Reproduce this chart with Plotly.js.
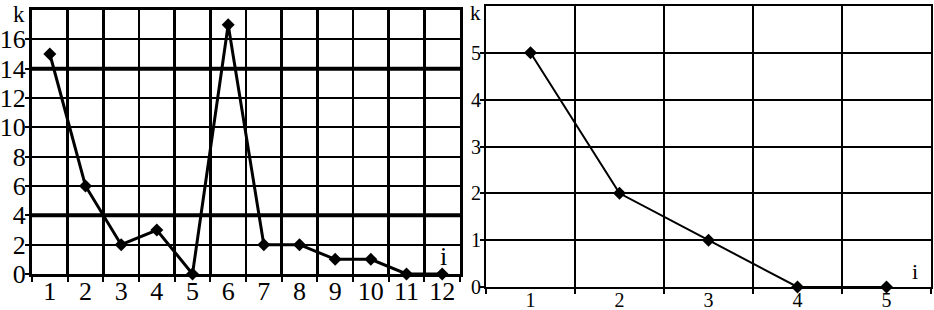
<!DOCTYPE html>
<html>
<head>
<meta charset="utf-8">
<script src="https://cdn.plot.ly/plotly-3.0.1.min.js"></script>
<style>html,body{margin:0;padding:0;background:#fff;}#chart{width:934px;height:310px;}</style>
</head>
<body>
<div id="chart"></div>
<script>
// ---- data ----
const leftI = [1, 2, 3, 4, 5, 6, 7, 8, 9, 10, 11, 12];
const leftK = [15, 6, 2, 3, 0, 17, 2, 2, 1, 1, 0, 0];
const leftKTicks = [0, 2, 4, 6, 8, 10, 12, 14, 16];
const rightI = [1, 2, 3, 4, 5];
const rightK = [5, 2, 1, 0, 0];
const rightKTicks = [0, 1, 2, 3, 4, 5];
const leftBoldGrid = [4, 14];
const axisLetterK = 'k';
const axisLetterI = 'i';

const serif = 'Liberation Serif';
const W = 934, H = 310;

const traces = [
  {
    x: leftI, y: leftK, xaxis: 'x', yaxis: 'y',
    mode: 'lines+markers', cliponaxis: false,
    line: {color: 'black', width: 3},
    marker: {symbol: 'diamond', size: 10, color: 'black'},
    hoverinfo: 'none'
  },
  {
    x: rightI, y: rightK, xaxis: 'x2', yaxis: 'y2',
    mode: 'lines+markers', cliponaxis: false,
    line: {color: 'black', width: 2},
    marker: {symbol: 'diamond', size: 10, color: 'black'},
    hoverinfo: 'none'
  }
];

function xAxis(domain, n, fontSize, anchor, lw, standoff) {
  return {
    domain: domain, anchor: anchor,
    range: [0.5, n + 0.5],
    tickmode: 'array', tickvals: Array.from({length: n}, (_, j) => j + 1),
    ticks: '', ticklabelstandoff: standoff,
    showgrid: false, zeroline: false,
    showline: true, linecolor: 'black', linewidth: lw, mirror: true,
    tickfont: {family: serif, size: fontSize, color: 'black'},
    minor: {tickmode: 'linear', tick0: 0.5, dtick: 1, ticks: 'outside', ticklen: 5,
            tickwidth: 2, tickcolor: 'black', showgrid: true, gridcolor: 'black', gridwidth: 2.5},
    fixedrange: true
  };
}
function yAxis(domain, range, tickvals, fontSize, anchor, lw, standoff) {
  return {
    domain: domain, anchor: anchor, range: range,
    tickmode: 'array', tickvals: tickvals,
    ticks: 'outside', ticklen: 4, tickwidth: 2, tickcolor: 'black',
    ticklabelstandoff: standoff,
    showgrid: true, gridcolor: 'black', gridwidth: 2,
    zeroline: false, showline: true, linecolor: 'black', linewidth: lw, mirror: true,
    tickfont: {family: serif, size: fontSize, color: 'black'},
    fixedrange: true
  };
}

const layout = {
  width: W, height: H,
  margin: {l: 0, r: 0, t: 0, b: 0},
  paper_bgcolor: 'white', plot_bgcolor: 'white',
  showlegend: false,
  xaxis: xAxis([32 / W, 460 / W], leftI.length, 26, 'y', 3, -8),
  yaxis: yAxis([(H - 274) / H, (H - 10) / H], [0, 18], leftKTicks, 26, 'x', 3, -6),
  xaxis2: xAxis([486 / W, 931 / W], rightI.length, 20, 'y2', 2, -6),
  yaxis2: yAxis([(H - 287) / H, (H - 6) / H], [0, 6], rightKTicks, 20, 'x2', 2, -5),
  shapes: leftBoldGrid.map(v => ({
    type: 'line', xref: 'x domain', yref: 'y', x0: 0, x1: 1, y0: v, y1: v,
    line: {color: 'black', width: 4}, layer: 'below'
  })),
  annotations: [
    {text: axisLetterK, xref: 'paper', yref: 'paper', x: 19 / W, y: 1 - 14 / H,
     xanchor: 'center', yanchor: 'middle',
     showarrow: false, font: {family: serif, size: 23, color: 'black'}},
    {text: axisLetterI, xref: 'paper', yref: 'paper', x: 443 / W, y: 1 - 256 / H,
     xanchor: 'center', yanchor: 'middle',
     showarrow: false, font: {family: serif, size: 26, color: 'black'}},
    {text: axisLetterK, xref: 'paper', yref: 'paper', x: 476 / W, y: 1 - 13 / H,
     xanchor: 'center', yanchor: 'middle',
     showarrow: false, font: {family: serif, size: 21, color: 'black'}},
    {text: axisLetterI, xref: 'paper', yref: 'paper', x: 915 / W, y: 1 - 271 / H,
     xanchor: 'center', yanchor: 'middle',
     showarrow: false, font: {family: serif, size: 22, color: 'black'}}
  ]
};

Plotly.newPlot('chart', traces, layout, {staticPlot: true, displayModeBar: false});
</script>
</body>
</html>
